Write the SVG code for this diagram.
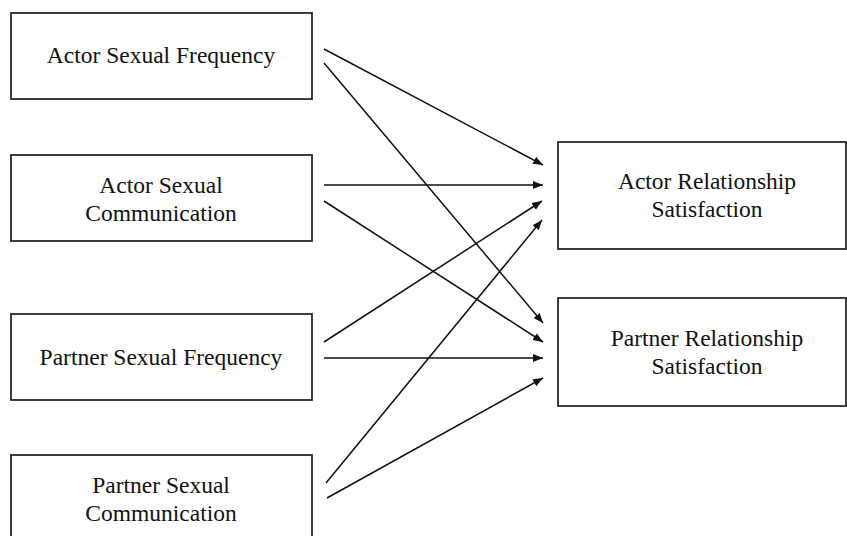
<svg xmlns="http://www.w3.org/2000/svg" width="847" height="536" viewBox="0 0 847 536">
<style>
.box{fill:#fff;stroke:#2a2a2a;stroke-width:1.8}
.lbl{font-family:"Liberation Serif","Times New Roman",serif;font-size:23.5px;fill:#111;text-anchor:middle}
.edge{stroke:#111;stroke-width:1.5;fill:none;marker-end:url(#ah)}
</style>
<defs>
<marker id="ah" markerUnits="userSpaceOnUse" markerWidth="11" markerHeight="9" refX="10" refY="4.5" orient="auto">
<path d="M0,0.5 L10,4.5 L0,8.5 z" fill="#111"/>
</marker>
</defs>
<rect width="847" height="536" fill="#fff"/>
<g id="asf"><rect class="box" x="11" y="13" width="301" height="86"/><text class="lbl" x="161" y="63">Actor Sexual Frequency</text></g>
<g id="asc"><rect class="box" x="11" y="155" width="301" height="86"/><text class="lbl" x="161" y="193">Actor Sexual</text><text class="lbl" x="161" y="221">Communication</text></g>
<g id="psf"><rect class="box" x="11" y="314" width="301" height="86"/><text class="lbl" x="161" y="365">Partner Sexual Frequency</text></g>
<g id="psc"><rect class="box" x="11" y="455" width="301" height="86"/><text class="lbl" x="161" y="493">Partner Sexual</text><text class="lbl" x="161" y="521">Communication</text></g>
<g id="ars"><rect class="box" x="558" y="142" width="288" height="107"/><text class="lbl" x="707" y="189">Actor Relationship</text><text class="lbl" x="707" y="217">Satisfaction</text></g>
<g id="prs"><rect class="box" x="558" y="298" width="288" height="108"/><text class="lbl" x="707" y="346">Partner Relationship</text><text class="lbl" x="707" y="374">Satisfaction</text></g>
<g id="connectors">
<line class="edge" x1="324" y1="49" x2="543" y2="165"/>
<line class="edge" x1="324" y1="63" x2="543" y2="323"/>
<line class="edge" x1="324" y1="185" x2="543" y2="185"/>
<line class="edge" x1="324" y1="201" x2="543" y2="342"/>
<line class="edge" x1="324" y1="342" x2="542" y2="201"/>
<line class="edge" x1="324" y1="358" x2="543" y2="358"/>
<line class="edge" x1="326" y1="483" x2="542" y2="220"/>
<line class="edge" x1="327" y1="498" x2="543" y2="378"/>
</g>
</svg>
